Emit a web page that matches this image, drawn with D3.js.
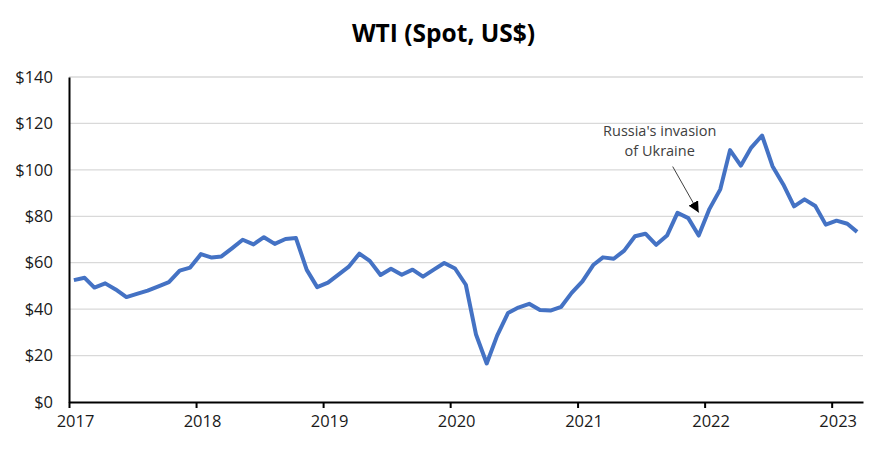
<!DOCTYPE html>
<html>
<head>
<meta charset="utf-8">
<script src="https://cdn.jsdelivr.net/npm/d3@7"></script>
<style>
  html, body { margin: 0; padding: 0; background: #fff; }
  svg { display: block; }
</style>
</head>
<body>
<svg id="chart" width="889" height="452"></svg>
<script>
// ---- Data (monthly average WTI spot price, US$/bbl) ----
const startMonth = "2017-01";
const prices = [
  52.5, 53.5, 49.3, 51.1, 48.5, 45.2, 46.6, 48.0, 49.8, 51.6, 56.6, 57.9,   // 2017
  63.7, 62.2, 62.7, 66.3, 69.9, 67.9, 71.0, 68.1, 70.2, 70.6, 56.9, 49.5,   // 2018
  51.4, 55.0, 58.2, 63.9, 60.8, 54.7, 57.4, 54.8, 57.0, 54.0, 57.0, 59.9,   // 2019
  57.5, 50.5, 29.2, 16.6, 28.6, 38.3, 40.7, 42.3, 39.6, 39.4, 41.0, 47.0,   // 2020
  52.0, 59.0, 62.3, 61.7, 65.2, 71.4, 72.5, 67.7, 71.7, 81.5, 79.2, 71.7,   // 2021
  83.2, 91.6, 108.5, 101.8, 109.6, 114.8, 101.6, 93.7, 84.3, 87.3, 84.4, 76.4, // 2022
  78.1, 76.8, 73.3                                                            // 2023
];
const yTicks = [0, 20, 40, 60, 80, 100, 120, 140];
const xTickYears = [2017, 2018, 2019, 2020, 2021, 2022, 2023];
const titleText = "WTI (Spot, US$)";
const annotationLines = ["Russia's invasion", "of Ukraine"];
const annotationMonth = "2021-12";  // point the arrow refers to

// ---- Build ----
const parse = d3.utcParse("%Y-%m");
const start = parse(startMonth);
const data = prices.map((v, i) => ({
  date: d3.utcDay.offset(d3.utcMonth.offset(start, i), 14),
  value: v
}));

const svg = d3.select("#chart");
const W = 889, H = 452;
const margin = { top: 77, right: 26, bottom: 50, left: 69 };
const iw = W - margin.left - margin.right;
const ih = H - margin.top - margin.bottom;

const x = d3.scaleUtc()
  .domain([new Date(Date.UTC(2017, 0, 1)), new Date(Date.UTC(2023, 3, 1))])
  .range([0, iw]);
const y = d3.scaleLinear().domain([0, 140]).range([ih, 0]);

const font = "'Open Sans', 'Noto Sans', sans-serif";

// Title
svg.append("text")
  .attr("x", W / 2 - 1)
  .attr("y", 42)
  .attr("text-anchor", "middle")
  .style("font-family", font)
  .style("font-weight", "700")
  .style("font-size", "24.5px")
  .style("fill", "#000")
  .text(titleText);

const g = svg.append("g").attr("transform", `translate(${margin.left},${margin.top})`);

// Gridlines
g.append("g")
  .selectAll("line")
  .data(yTicks.filter(d => d > 0))
  .join("line")
  .attr("x1", 0).attr("x2", iw)
  .attr("y1", d => y(d)).attr("y2", d => y(d))
  .attr("stroke", "#d9d9d9")
  .attr("stroke-width", 1.3);

// Y axis
const yAxis = g.append("g")
  .call(d3.axisLeft(y).tickValues(yTicks).tickSize(0).tickPadding(16)
    .tickFormat(d => "$" + d));
yAxis.select(".domain").attr("stroke", "#000").attr("stroke-width", 2);
yAxis.selectAll("text")
  .style("font-family", font).style("font-size", "16.5px").style("fill", "#1a1a1a");

// X axis
const xAxis = g.append("g")
  .attr("transform", `translate(0,${ih})`)
  .call(d3.axisBottom(x)
    .tickValues(xTickYears.map(yr => new Date(Date.UTC(yr, 0, 1))))
    .tickSizeOuter(0).tickSizeInner(6).tickPadding(7)
    .tickFormat(d3.utcFormat("%Y")));
xAxis.select(".domain").attr("stroke", "#000").attr("stroke-width", 2);
xAxis.selectAll(".tick line").attr("stroke", "#000").attr("stroke-width", 2);
xAxis.selectAll("text")
  .attr("dx", 6)
  .style("font-family", font).style("font-size", "16.5px").style("fill", "#1a1a1a");

// Line
const line = d3.line().x(d => x(d.date)).y(d => y(d.value));
g.append("path")
  .datum(data)
  .attr("fill", "none")
  .attr("stroke", "#4472c4")
  .attr("stroke-width", 4)
  .attr("stroke-linejoin", "round")
  .attr("d", line);

// Annotation
const aIdx = d3.utcMonth.count(start, parse(annotationMonth));
const ap = data[aIdx];
const tipX = x(ap.date), tipY = y(ap.value) - 23;
const startX = tipX - 26, startY = tipY - 46;

svg.append("defs").append("marker")
  .attr("id", "arrow")
  .attr("viewBox", "0 0 10 10")
  .attr("refX", 10).attr("refY", 5)
  .attr("markerWidth", 11).attr("markerHeight", 11)
  .attr("markerUnits", "userSpaceOnUse")
  .attr("orient", "auto")
  .append("path").attr("d", "M0,0 L10,5 L0,10 Z").attr("fill", "#000");

g.append("line")
  .attr("x1", startX).attr("y1", startY)
  .attr("x2", tipX).attr("y2", tipY)
  .attr("stroke", "#404040").attr("stroke-width", 1)
  .attr("marker-end", "url(#arrow)");

const at = g.append("text")
  .attr("text-anchor", "middle")
  .style("font-family", font).style("font-size", "14.5px").style("fill", "#404040");
annotationLines.forEach((t, i) => {
  at.append("tspan")
    .attr("x", startX - 13)
    .attr("y", startY - 31 + i * 20)
    .text(t);
});
</script>
</body>
</html>
